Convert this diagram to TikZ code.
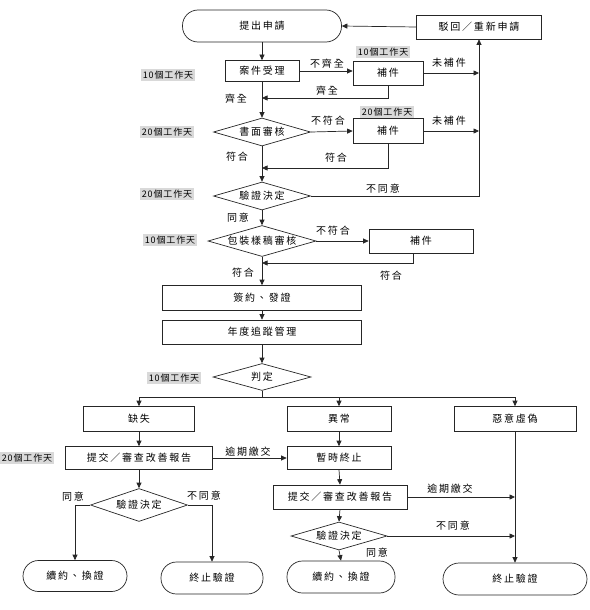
\documentclass[tikz,border=0pt]{standalone}
\usepackage{fontspec}
\newfontfamily\cjk[LetterSpace=18]{Noto Sans CJK TC}
\newfontfamily\cjkday[LetterSpace=10]{Noto Sans CJK TC}
\usetikzlibrary{arrows.meta,shapes.geometric}
\begin{document}
\begin{tikzpicture}[x=1pt,y=-1pt,
  font=\cjk\fontsize{10}{12}\selectfont,
  line width=0.7pt, draw=black!85,
  box/.style={draw=black!85, rectangle, inner sep=0pt},
  term/.style={box, rounded corners=15.5pt},
  dia/.style={draw=black!85, diamond, aspect=3.5, inner sep=0pt},
  day/.style={fill=black!15, inner sep=1.5pt, font=\cjkday\fontsize{9}{11}\selectfont},
  lbl/.style={inner sep=0pt},
  arr/.style={-{Triangle[length=5.5pt,width=5pt]}, draw=black!85}
]
\useasboundingbox (0,0) rectangle (589,610);

% top part
\node[term, minimum width=159pt, minimum height=32pt] (s0) at (262,26) {提出申請};
\node[box, minimum width=125pt, minimum height=24pt] (rej) at (479,27) {駁回／重新申請};
\node[box, minimum width=74pt, minimum height=21pt] (n1) at (262,71) {案件受理};
\node[day] (d0) at (168,75) {10個工作天};
\node[box, minimum width=70pt, minimum height=24pt] (f1) at (388,73) {補件};
\node[day] (d1) at (383,52) {10個工作天};

\node[dia, minimum width=97pt, minimum height=28pt] (dm1) at (262,132) {書面審核};
\node[day] (d2) at (167,132) {20個工作天};
\node[box, minimum width=70pt, minimum height=25pt] (f2) at (388,131) {補件};
\node[day] (d3) at (387,112) {20個工作天};

\node[dia, minimum width=97pt, minimum height=28pt] (dm2) at (262,196) {驗證決定};
\node[day] (d4) at (167,194) {20個工作天};

\node[dia, minimum width=108pt, minimum height=31pt] (dm3) at (262,241) {包裝樣稿審核};
\node[day] (d5) at (170,240) {10個工作天};
\node[box, minimum width=104pt, minimum height=24pt] (f3) at (421,241) {補件};

\node[box, minimum width=199pt, minimum height=25pt] (sign) at (262,298) {簽約、發證};
\node[box, minimum width=199pt, minimum height=24pt] (track) at (262,332) {年度追蹤管理};

\node[dia, minimum width=98pt, minimum height=27pt] (judge) at (262,377) {判定};
\node[day] (d6) at (174,378) {10個工作天};

\node[box, minimum width=111pt, minimum height=25pt] (miss) at (139,419) {缺失};
\node[box, minimum width=104pt, minimum height=25pt] (abn) at (339,419) {異常};
\node[box, minimum width=122pt, minimum height=25pt] (mal) at (515,419) {惡意虛偽};

\node[box, minimum width=147pt, minimum height=23pt] (rep1) at (139,458) {提交／審查改善報告};
\node[day] (d7) at (27,458) {20個工作天};
\node[box, minimum width=104pt, minimum height=23pt] (stop) at (339,458) {暫時終止};
\node[box, minimum width=134pt, minimum height=24pt] (rep2) at (340,497) {提交／審查改善報告};

\node[dia, minimum width=97pt, minimum height=33pt] (dm4) at (139,505) {驗證決定};
\node[dia, minimum width=96pt, minimum height=28pt] (dm5) at (339,536) {驗證決定};

\node[term, minimum width=104pt, minimum height=31pt] (ren1) at (75,576) {續約、換證};
\node[term, minimum width=102pt, minimum height=32pt] (end1) at (212,578) {終止驗證};
\node[term, minimum width=108pt, minimum height=32pt] (ren2) at (341,577) {續約、換證};
\node[term, minimum width=144pt, minimum height=32pt, rounded corners=16pt] (end2) at (515,579) {終止驗證};

% junction coordinates
\coordinate (j1) at (262,98);
\coordinate (j2) at (262,168);
\coordinate (j3) at (262,263);
\coordinate (jb) at (262,397);
\coordinate (f3d) at (413,253);

% connectors top
\draw[arr] (rej.west) -- (s0.east);
\draw[arr] (s0.south) -- (n1.north);
\draw[arr] (n1.east) -- (f1.west |- n1.east);
\node[lbl] at (327,64) {不齊全};
\draw[arr] (f1.east) -- (f1.east -| rej.south);
\node[lbl] at (449,63) {未補件};
\draw[arr] (f1.south) |- (j1);
\node[lbl] at (327,91) {齊全};
\node[lbl] at (236,99) {齊全};
\draw[arr] (n1.south) -- (dm1.north);

\draw[arr] (dm1.east) -- (f2.west);
\node[lbl] at (328,121) {不符合};
\draw[arr] (f2.east) -- (f2.east -| rej.south);
\node[lbl] at (449,121) {未補件};
\draw[arr] (f2.south) |- (j2);
\node[lbl] at (336,158) {符合};
\node[lbl] at (237,157) {符合};
\draw[arr] (dm1.south) -- (dm2.north);

\draw[arr] (dm2.east) -| (rej.south);
\node[lbl] at (383,189) {不同意};
\node[lbl] at (238,218) {同意};
\draw[arr] (dm2.south) -- (dm3.north);

\draw[arr] (dm3.east) -- (f3.west);
\node[lbl] at (333,231) {不符合};
\draw[arr] (f3d) |- (j3);
\node[lbl] at (391,276) {符合};
\node[lbl] at (243,273) {符合};
\draw[arr] (dm3.south) -- (sign.north);
\draw[arr] (sign.south) -- (track.north);
\draw[arr] (track.south) -- (judge.north);

% judgement branches
\draw (judge.south) -- (jb);
\draw[arr] (jb) -| (miss.north);
\draw[arr] (jb) -| (abn.north);
\draw[arr] (jb) -| (mal.north);

\draw[arr] (miss.south) -- (rep1.north);
\draw[arr] (abn.south) -- (stop.north);
\draw[arr] (rep1.east) -- (stop.west);
\node[lbl] at (248,452) {逾期繳交};
\draw[arr] (stop.south) -- (rep2.north);

\draw[arr] (rep1.south) -- (dm4.north);
\draw[arr] (dm4.west) -| (ren1.north);
\node[lbl] at (73,497) {同意};
\draw[arr] (dm4.east) -| (end1.north);
\node[lbl] at (204,496) {不同意};

\draw[arr] (rep2.east) -- (rep2.east -| end2.north);
\node[lbl] at (450,489) {逾期繳交};
\draw[arr] (rep2.south) -- (dm5.north);
\draw[arr] (dm5.east) -- (dm5.east -| end2.north);
\node[lbl] at (453,526) {不同意};
\draw[arr] (dm5.south) -- (ren2.north);
\node[lbl] at (377,553) {同意};
\draw[arr] (mal.south) -- (end2.north);
\end{tikzpicture}
\end{document}
